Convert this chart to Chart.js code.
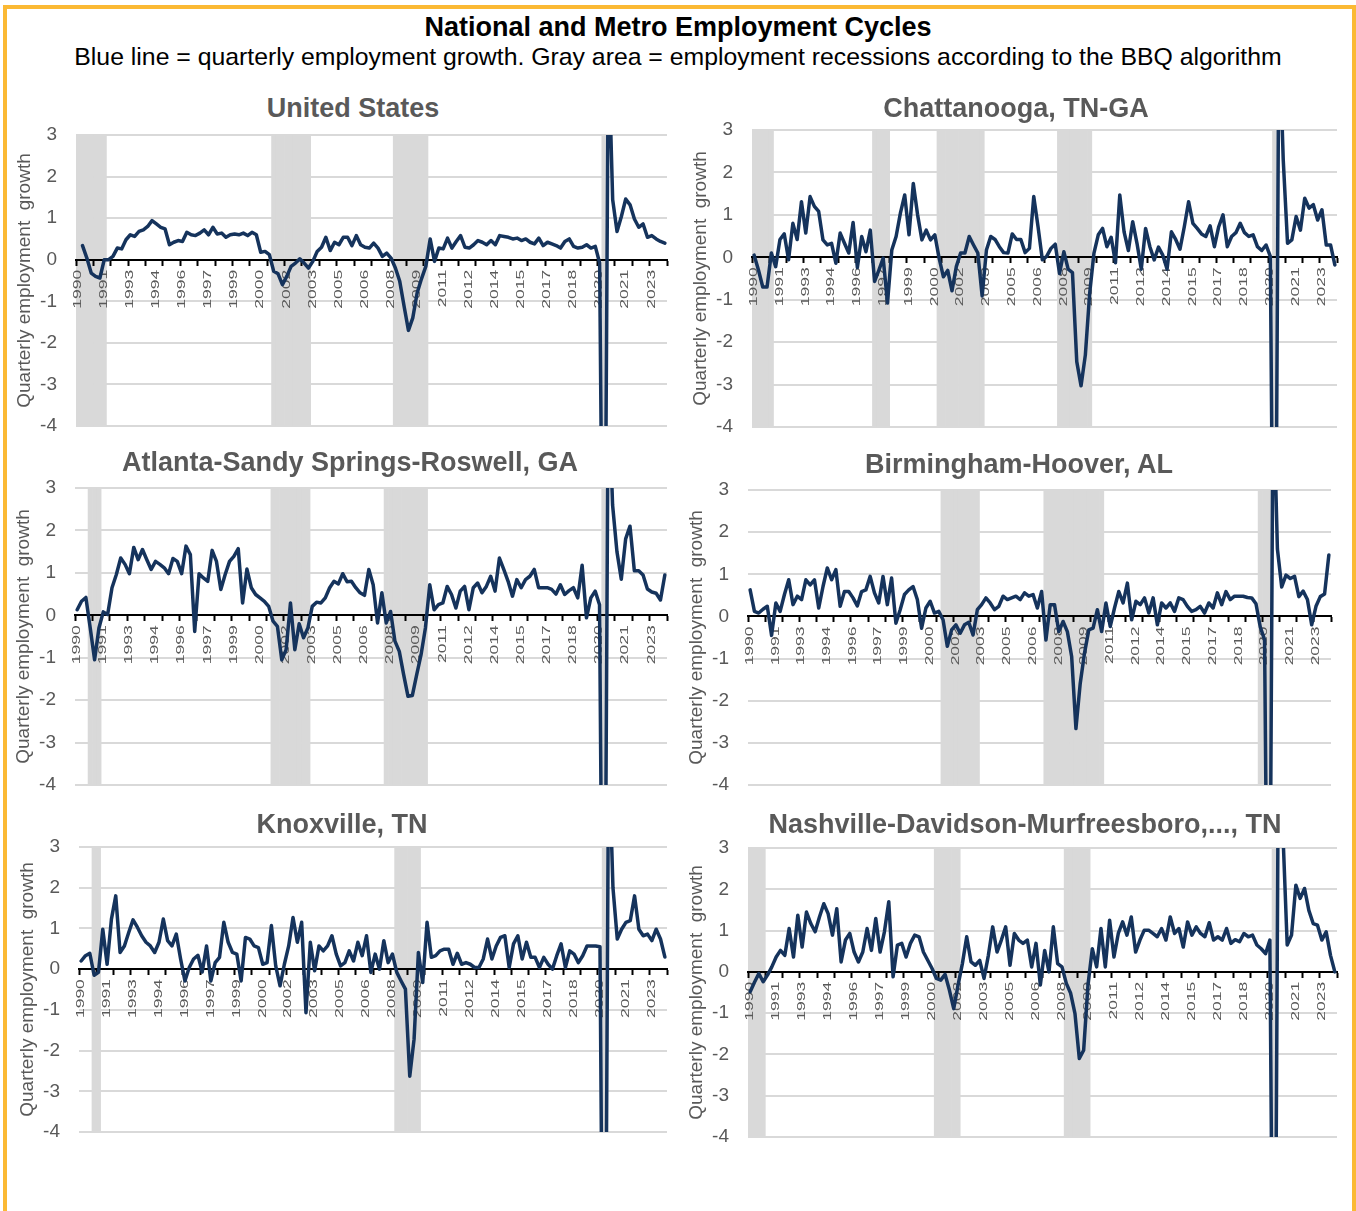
<!DOCTYPE html>
<html>
<head>
<meta charset="utf-8">
<title>National and Metro Employment Cycles</title>
<script src="https://cdn.jsdelivr.net/npm/chart.js@4.4.1/dist/chart.umd.min.js"></script>
<style>
  html, body { margin: 0; padding: 0; background: #fff; overflow: hidden; }
  body { width: 1356px; height: 1211px; position: relative; font-family: 'Liberation Sans', Arial, sans-serif; }
  #frame { position: absolute; left: 3px; top: 5px; width: 1353px; height: 1400px; box-sizing: border-box; border: 4px solid #fbb934; }
  .txt { position: absolute; transform: translate(-50%, -50%); white-space: nowrap; line-height: 1; }
  #title { left: 678px; top: 27px; font-size: 27px; font-weight: bold; color: #000; }
  #subtitle { left: 678px; top: 57px; font-size: 24.8px; color: #000; }
  .ptitle { font-size: 27px; font-weight: bold; color: #595959; }
  .panel { position: absolute; }
</style>
</head>
<body>
<div id="frame"></div>
<div id="title" class="txt">National and Metro Employment Cycles</div>
<div id="subtitle" class="txt">Blue line = quarterly employment growth. Gray area = employment recessions according to the BBQ algorithm</div>

<script>
// quarters 1990 Q1 .. 2023 Q4
const firstYear = 1990, lastYear = 2023;
const quarters = [];
for (let y = firstYear; y <= lastYear; y++) {
    for (let q = 1; q <= 4; q++) quarters.push(y + ' Q' + q);
}

const yMin = -4, yMax = 3;

// quarterly employment growth, one row = 2 years
const usGrowth = [
    null, 0.34, 0.04, -0.32, -0.40, -0.44, 0.00, 0.00,
    0.08, 0.28, 0.26, 0.48, 0.60, 0.56, 0.68, 0.72,
    0.80, 0.94, 0.86, 0.78, 0.74, 0.36, 0.42, 0.46,
    0.44, 0.66, 0.60, 0.58, 0.64, 0.72, 0.60, 0.78,
    0.62, 0.64, 0.54, 0.60, 0.62, 0.60, 0.64, 0.58,
    0.66, 0.60, 0.18, 0.20, 0.12, -0.28, -0.34, -0.60,
    -0.40, -0.16, -0.08, 0.02, -0.08, -0.20, -0.04, 0.20,
    0.30, 0.54, 0.22, 0.42, 0.36, 0.54, 0.54, 0.34,
    0.58, 0.36, 0.30, 0.28, 0.40, 0.28, 0.08, 0.16,
    0.04, -0.20, -0.52, -1.12, -1.70, -1.40, -0.80, -0.46,
    -0.16, 0.50, -0.04, 0.28, 0.26, 0.52, 0.28, 0.44,
    0.58, 0.30, 0.28, 0.36, 0.46, 0.42, 0.36, 0.46,
    0.36, 0.58, 0.56, 0.54, 0.50, 0.52, 0.46, 0.50,
    0.42, 0.38, 0.52, 0.34, 0.42, 0.38, 0.34, 0.28,
    0.44, 0.50, 0.32, 0.28, 0.30, 0.36, 0.28, 0.32,
    -0.08, -12.2, 5.2, 1.44, 0.68, 1.04, 1.46, 1.32,
    0.98, 0.78, 0.86, 0.54, 0.58, 0.50, 0.44, 0.40
];
const chattanoogaGrowth = [
    0.05, -0.30, -0.70, -0.70, 0.10, -0.22, 0.42, 0.55,
    -0.06, 0.80, 0.42, 1.31, 0.57, 1.43, 1.20, 1.08,
    0.41, 0.29, 0.33, -0.14, 0.57, 0.33, 0.10, 0.82,
    -0.24, 0.49, 0.13, 0.64, -0.57, -0.30, -0.02, -1.08,
    0.17, 0.49, 1.04, 1.47, 0.53, 1.74, 1.00, 0.41,
    0.64, 0.41, 0.53, -0.02, -0.46, -0.31, -0.79, -0.22,
    0.10, 0.10, 0.49, 0.29, 0.10, -0.91, 0.17, 0.49,
    0.42, 0.25, 0.11, 0.10, 0.55, 0.42, 0.42, 0.11,
    0.21, 1.43, 0.72, -0.06, 0.02, 0.21, 0.31, -0.38,
    0.13, -0.28, -0.36, -2.46, -3.03, -2.30, -0.85, 0.10,
    0.53, 0.68, 0.25, 0.47, -0.13, 1.47, 0.60, 0.16,
    0.84, 0.33, -0.28, 0.68, 0.25, -0.06, 0.24, 0.05,
    -0.28, 0.60, 0.42, 0.19, 0.72, 1.31, 0.80, 0.68,
    0.55, 0.49, 0.74, 0.25, 0.72, 1.00, 0.25, 0.49,
    0.58, 0.80, 0.58, 0.49, 0.53, 0.25, 0.16, 0.29,
    0.02, -12.5, 5.5, 2.30, 0.33, 0.41, 0.96, 0.64,
    1.39, 1.16, 1.24, 0.88, 1.12, 0.29, 0.29, -0.18
];
const atlantaGrowth = [
    0.13, 0.33, 0.42, -0.30, -1.05, -0.30, 0.08, 0.02,
    0.65, 0.96, 1.35, 1.20, 0.98, 1.60, 1.31, 1.55,
    1.31, 1.08, 1.27, 1.20, 1.12, 0.98, 1.34, 1.27,
    0.98, 1.63, 1.43, -0.38, 0.98, 0.88, 0.80, 1.53,
    1.27, 0.61, 0.96, 1.27, 1.39, 1.57, 0.29, 1.09,
    0.65, 0.49, 0.41, 0.33, 0.21, -0.14, -0.26, -1.05,
    -0.81, 0.29, -0.81, -0.20, -0.53, -0.30, 0.21, 0.31,
    0.29, 0.41, 0.65, 0.80, 0.74, 0.98, 0.79, 0.80,
    0.65, 0.53, 0.47, 1.08, 0.72, -0.18, 0.53, -0.18,
    0.09, -0.61, -0.85, -1.40, -1.91, -1.89, -1.40, -0.93,
    -0.30, 0.72, 0.13, 0.25, 0.29, 0.68, 0.49, 0.17,
    0.57, 0.68, 0.13, 0.65, 0.76, 0.53, 0.68, 0.92,
    0.57, 1.35, 1.08, 0.80, 0.45, 0.84, 0.65, 0.84,
    0.92, 1.08, 0.65, 0.65, 0.65, 0.61, 0.50, 0.72,
    0.49, 0.58, 0.65, 0.41, 1.18, -0.06, 0.41, 0.57,
    0.25, -13.0, 5.5, 2.60, 1.50, 0.85, 1.80, 2.10,
    1.05, 1.05, 0.95, 0.62, 0.55, 0.52, 0.36, 0.95
];
const birminghamGrowth = [
    0.63, 0.12, 0.08, 0.17, 0.24, -0.45, 0.32, 0.12,
    0.52, 0.87, 0.28, 0.48, 0.40, 0.87, 0.75, 0.87,
    0.20, 0.71, 1.15, 0.87, 1.11, 0.24, 0.59, 0.59,
    0.44, 0.25, 0.59, 0.63, 0.95, 0.56, 0.32, 0.95,
    0.28, 0.91, -0.16, 0.16, 0.52, 0.63, 0.71, 0.40,
    -0.28, 0.20, 0.36, 0.08, 0.12, -0.08, -0.71, -0.32,
    -0.20, -0.40, -0.20, -0.14, -0.44, 0.16, 0.28, 0.44,
    0.32, 0.16, 0.24, 0.48, 0.40, 0.44, 0.48, 0.40,
    0.56, 0.48, 0.52, 0.20, 0.59, -0.56, 0.28, 0.28,
    -0.36, -0.12, -0.36, -0.95, -2.66, -1.59, -0.87, -0.32,
    -0.28, 0.16, -0.36, 0.32, -0.24, 0.20, 0.59, 0.32,
    0.79, -0.08, 0.36, 0.28, 0.44, 0.08, 0.44, -0.20,
    0.32, 0.20, 0.32, 0.12, 0.44, 0.40, 0.24, 0.12,
    0.16, 0.24, 0.08, 0.32, 0.20, 0.56, 0.28, 0.59,
    0.40, 0.48, 0.48, 0.48, 0.45, 0.44, 0.30, -0.25,
    -0.55, -12.0, 5.5, 1.60, 0.70, 0.98, 0.90, 0.95,
    0.47, 0.60, 0.40, -0.20, 0.24, 0.47, 0.53, 1.46
];
const knoxvilleGrowth = [
    0.20, 0.33, 0.39, -0.15, -0.08, 0.98, 0.12, 1.23,
    1.80, 0.41, 0.57, 0.90, 1.21, 1.03, 0.82, 0.66,
    0.57, 0.41, 0.66, 1.23, 0.70, 0.57, 0.86, 0.25,
    -0.29, 0.04, 0.25, 0.34, -0.07, 0.57, -0.29, 0.16,
    0.29, 1.15, 0.66, 0.41, 0.37, -0.29, 0.78, 0.74,
    0.57, 0.53, 0.12, 0.16, 1.07, 0.08, -0.41, 0.12,
    0.57, 1.27, 0.66, 1.15, -1.07, 0.66, -0.04, 0.57,
    0.45, 0.57, 0.82, 0.37, 0.08, 0.16, 0.45, 0.20,
    0.66, 0.33, 0.82, -0.08, 0.37, 0.00, 0.70, 0.16,
    0.37, -0.08, -0.29, -0.49, -2.63, -1.72, 0.41, -0.33,
    1.15, 0.29, 0.33, 0.45, 0.49, 0.49, 0.12, 0.39,
    0.12, 0.16, 0.12, 0.04, 0.04, 0.25, 0.74, 0.25,
    0.57, 0.78, 0.82, 0.04, 0.62, 0.82, 0.25, 0.66,
    0.29, 0.29, 0.04, 0.29, 0.12, 0.00, 0.33, 0.62,
    0.04, 0.45, 0.37, 0.16, 0.33, 0.57, 0.57, 0.57,
    0.55, -14.0, 5.5, 2.00, 0.74, 0.98, 1.15, 1.19,
    1.80, 0.98, 0.82, 0.86, 0.70, 0.98, 0.74, 0.30
];
const nashvilleGrowth = [
    -0.48, -0.25, -0.04, -0.24, -0.08, 0.12, 0.36, 0.52,
    0.40, 1.05, 0.36, 1.37, 0.60, 1.45, 1.17, 0.97,
    1.33, 1.65, 1.41, 0.89, 1.53, 0.24, 0.77, 0.93,
    0.48, 0.24, 0.48, 1.05, 0.52, 1.29, 0.48, 0.97,
    1.70, -0.12, 0.65, 0.69, 0.36, 0.69, 0.89, 0.85,
    0.48, 0.28, 0.08, -0.16, -0.20, -0.06, -0.44, -0.89,
    -0.32, 0.20, 0.85, 0.24, 0.16, 0.28, -0.16, 0.40,
    1.09, 0.48, 0.77, 1.09, 0.16, 0.93, 0.77, 0.69,
    0.77, 0.12, 0.69, -0.32, 0.52, 0.00, 1.09, 0.20,
    0.12, -0.28, -0.52, -1.01, -2.10, -1.90, -0.32, 0.56,
    0.12, 1.05, 0.12, 1.25, 0.36, 0.93, 1.21, 0.89,
    1.33, 0.48, 0.77, 1.01, 1.01, 0.93, 0.85, 1.05,
    0.77, 1.33, 0.93, 1.05, 0.60, 1.21, 0.89, 1.09,
    0.93, 0.85, 1.19, 0.77, 0.85, 0.77, 1.05, 0.69,
    0.78, 0.73, 0.93, 0.85, 0.89, 0.65, 0.56, 0.44,
    0.77, -13.0, 6.0, 3.40, 0.65, 0.89, 2.10, 1.78,
    2.02, 1.49, 1.17, 1.13, 0.77, 0.97, 0.40, 0.00
];

// employment recessions (BBQ), first and last quarter
const usRecessions = [['1990 Q1', '1991 Q3'], ['2001 Q2', '2003 Q2'], ['2008 Q2', '2010 Q1'], ['2020 Q2', '2020 Q2']];
const chattanoogaRecessions = [['1990 Q1', '1991 Q1'], ['1997 Q1', '1997 Q4'], ['2000 Q4', '2003 Q2'], ['2007 Q4', '2009 Q3'], ['2020 Q2', '2020 Q2']];
const atlantaRecessions = [['1990 Q4', '1991 Q2'], ['2001 Q2', '2003 Q2'], ['2007 Q4', '2010 Q1'], ['2020 Q2', '2020 Q2']];
const birminghamRecessions = [['2001 Q2', '2003 Q2'], ['2007 Q2', '2010 Q3'], ['2019 Q4', '2020 Q2']];
const knoxvilleRecessions = [['1990 Q4', '1991 Q1'], ['2008 Q2', '2009 Q3'], ['2020 Q2', '2020 Q2']];
const nashvilleRecessions = [['1990 Q1', '1990 Q4'], ['2000 Q4', '2002 Q1'], ['2008 Q2', '2009 Q3'], ['2020 Q2', '2020 Q2']];

// panel placement on the page: plot area [left, top, right, bottom] and title centre
const panels = [
    { title: 'United States', data: usGrowth, recessions: usRecessions, area: [76, 135, 667, 426], titleAt: [353, 108] },
    { title: 'Chattanooga, TN-GA', data: chattanoogaGrowth, recessions: chattanoogaRecessions, area: [752, 130, 1337, 427], titleAt: [1016, 108] },
    { title: 'Atlanta-Sandy Springs-Roswell, GA', data: atlantaGrowth, recessions: atlantaRecessions, area: [75, 488, 667, 785], titleAt: [350, 462] },
    { title: 'Birmingham-Hoover, AL', data: birminghamGrowth, recessions: birminghamRecessions, area: [748, 490, 1331, 785], titleAt: [1019, 464] },
    { title: 'Knoxville, TN', data: knoxvilleGrowth, recessions: knoxvilleRecessions, area: [79, 847, 667, 1132], titleAt: [342, 824] },
    { title: 'Nashville-Davidson-Murfreesboro,..., TN', data: nashvilleGrowth, recessions: nashvilleRecessions, area: [748, 848, 1337, 1137], titleAt: [1025, 824] }
];

const NAVY = '#15335c';
const GRAY_TEXT = '#595959';
const BAND = '#d9d9d9';
const Y_AXIS_W = 70;
const PAD = { top: 12, right: 18, bottom: 12, left: 0 };

Chart.defaults.font.family = "'Liberation Sans', Arial, sans-serif";

function recessionBars(periods) {
    const bars = quarters.map(() => null);
    periods.forEach(([from, to]) => {
        for (let i = quarters.indexOf(from); i <= quarters.indexOf(to); i++) bars[i] = [yMin, yMax];
    });
    return bars;
}

// the year labels in the original are stretched along their length
function stretchLabels(scale) {
    if (scale._stretched) return;
    scale._stretched = true;
    const drawLabels = scale.drawLabels;
    scale.drawLabels = function (area) {
        const ctx = this.ctx;
        const rotate = ctx.rotate;
        ctx.rotate = function (a) { rotate.call(this, a); this.scale(1.75, 1); };
        drawLabels.call(this, area);
        delete ctx.rotate;
    };
}

// draw growth line last: above bands, axis line and year labels
const lineOnTop = {
    id: 'lineOnTop',
    beforeDatasetDraw(chart, args) {
        if (args.index === 0) return false;
    },
    afterDraw(chart) {
        const a = chart.chartArea, ctx = chart.ctx;
        ctx.save();
        ctx.beginPath();
        ctx.rect(a.left, a.top, a.right - a.left, a.bottom - a.top);
        ctx.clip();
        chart.getDatasetMeta(0).controller.draw();
        ctx.restore();
    }
};

function makeConfig(p) {
    return {
        type: 'line',
        data: {
            labels: quarters,
            datasets: [
                {
                    type: 'line',
                    data: p.data,
                    borderColor: NAVY,
                    borderWidth: 3.5,
                    borderJoinStyle: 'round',
                    borderCapStyle: 'round',
                    pointRadius: 0,
                    tension: 0,
                    order: 0
                },
                {
                    type: 'bar',
                    data: recessionBars(p.recessions),
                    backgroundColor: BAND,
                    borderWidth: 0,
                    barPercentage: 1,
                    categoryPercentage: 1,
                    order: 1
                }
            ]
        },
        options: {
            responsive: true,
            maintainAspectRatio: false,
            animation: false,
            events: [],
            layout: { padding: PAD },
            plugins: { legend: { display: false }, tooltip: { enabled: false } },
            scales: {
                x: {
                    offset: true,
                    position: { y: 0 },
                    grid: {
                        offset: true,
                        drawOnChartArea: false,
                        tickLength: 5,
                        tickWidth: 2,
                        tickColor: c => (c.index === undefined || c.index % 4 === 0) ? '#000' : 'rgba(0,0,0,0)',
                        z: 1
                    },
                    border: { color: '#000', width: 2, z: 1 },
                    ticks: {
                        z: 1,
                        autoSkip: false,
                        minRotation: 90,
                        maxRotation: 90,
                        padding: 5,
                        color: GRAY_TEXT,
                        font: { size: 10 },
                        callback: function (v, i) {
                            return i % 6 === 0 ? this.getLabelForValue(v).slice(0, 4) : '';
                        }
                    },
                    afterFit: stretchLabels
                },
                y: {
                    min: yMin,
                    max: yMax,
                    // gap between labels and plot made with invisible tick marks
                    ticks: { stepSize: 1, padding: 0, color: GRAY_TEXT, font: { size: 19 } },
                    grid: { color: BAND, lineWidth: 2, drawTicks: true, tickLength: 19, tickColor: 'rgba(0,0,0,0)' },
                    border: { display: false },
                    title: {
                        display: true,
                        text: 'Quarterly employment  growth',
                        color: GRAY_TEXT,
                        font: { size: 19 },
                        padding: { top: 7, bottom: 0 }
                    },
                    afterFit: s => { s.width = Y_AXIS_W; }
                }
            }
        },
        plugins: [lineOnTop]
    };
}

panels.forEach(p => {
    const [l, t, r, b] = p.area;
    const box = document.createElement('div');
    box.className = 'panel';
    box.style.left = (l - Y_AXIS_W) + 'px';
    box.style.top = (t - PAD.top) + 'px';
    box.style.width = (r - l + Y_AXIS_W + PAD.right) + 'px';
    box.style.height = (b - t + PAD.top + PAD.bottom) + 'px';
    const canvas = document.createElement('canvas');
    box.appendChild(canvas);
    document.body.appendChild(box);

    const head = document.createElement('div');
    head.className = 'txt ptitle';
    head.textContent = p.title;
    head.style.left = p.titleAt[0] + 'px';
    head.style.top = p.titleAt[1] + 'px';
    document.body.appendChild(head);

    new Chart(canvas, makeConfig(p));
});
</script>
</body>
</html>
